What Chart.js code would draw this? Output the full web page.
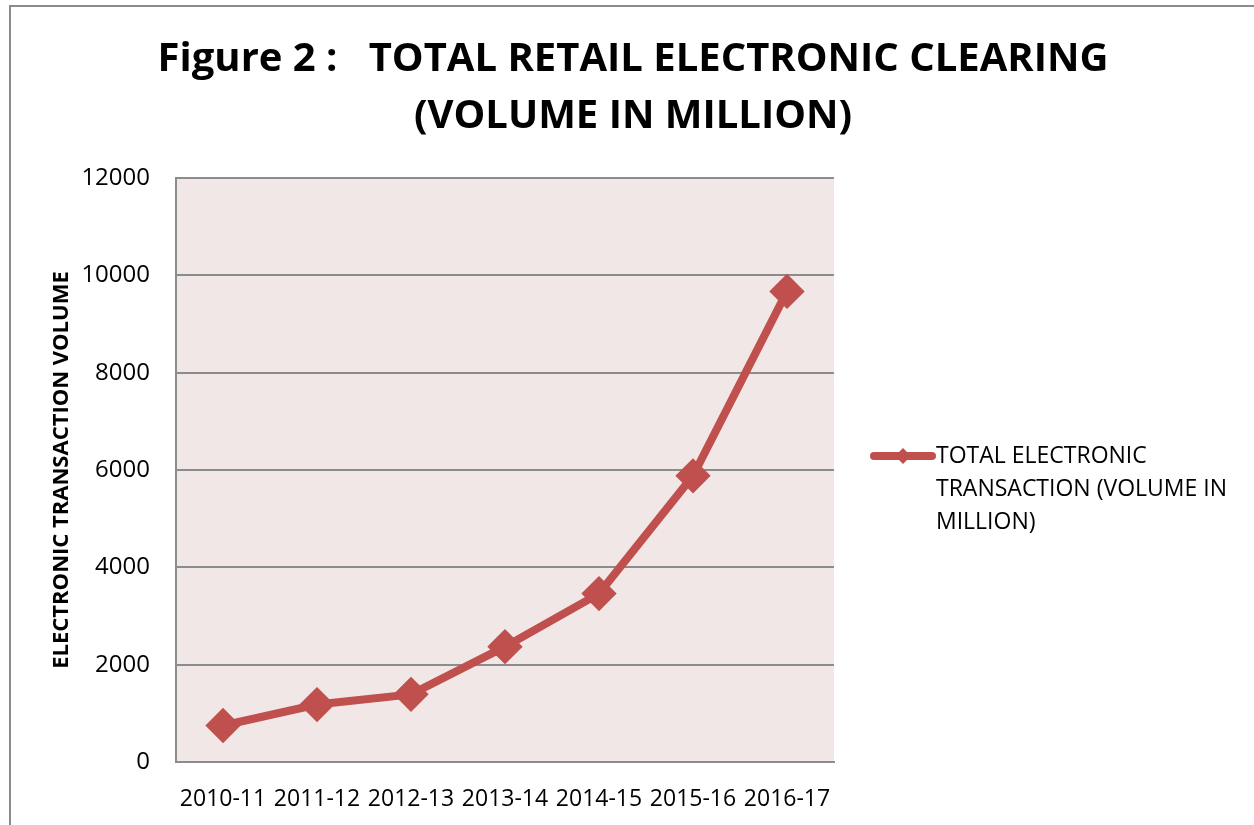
<!DOCTYPE html>
<html>
<head>
<meta charset="utf-8">
<script src="https://cdn.jsdelivr.net/npm/chart.js@4.4.1/dist/chart.umd.min.js"></script>
<style>
  html, body { margin: 0; padding: 0; background: #fff; }
  #wrap { position: relative; width: 1254px; height: 825px; }
  #frame { position: absolute; left: 9px; top: 5px; right: 0; bottom: 0;
           border-left: 2px solid #8c8c8c; border-top: 2px solid #8c8c8c; }
  canvas { position: absolute; left: 0; top: 0; }
</style>
</head>
<body>
<div id="wrap">
  <div id="frame"></div>
  <canvas id="myChart" width="1254" height="825"></canvas>
</div>
<script>
// data
const years = ['2010-11', '2011-12', '2012-13', '2013-14', '2014-15', '2015-16', '2016-17'];
const volumes = [750, 1180, 1390, 2370, 3460, 5880, 9670];
const yTicks = [0, 2000, 4000, 6000, 8000, 10000, 12000];
const titleLines = ['Figure 2 :   TOTAL RETAIL ELECTRONIC CLEARING', '(VOLUME IN MILLION)'];
const seriesName = ['TOTAL ELECTRONIC', 'TRANSACTION (VOLUME IN', 'MILLION)'];

const lineColor = '#c0504d';

// pink plot background
const plotBackground = {
    id: 'plotBackground',
    beforeDraw(chart) {
        const { ctx, chartArea: a } = chart;
        ctx.save();
        ctx.fillStyle = '#f2e7e7';
        ctx.fillRect(a.left, a.top, a.right - a.left, a.bottom - a.top);
        ctx.restore();
    }
};

// title centred on the whole page, not on the plot + padding
const pageTitle = {
    id: 'pageTitle',
    afterDraw(chart) {
        const ctx = chart.ctx;
        ctx.save();
        ctx.fillStyle = '#000';
        ctx.font = 'bold 40px "Open Sans"';
        ctx.textAlign = 'center';
        ctx.textBaseline = 'middle';
        ctx.fillText(titleLines[0], 633, 60);
        ctx.fillText(titleLines[1], 633, 117);
        ctx.restore();
    }
};

// legend on the right with wrapped text, like the excel one
const sideLegend = {
    id: 'sideLegend',
    afterDraw(chart) {
        const { ctx, chartArea: a } = chart;
        const x = a.right + 40;
        const y = (a.top + a.bottom) / 2 - 14;
        ctx.save();
        ctx.strokeStyle = lineColor;
        ctx.lineWidth = 8;
        ctx.lineCap = 'round';
        ctx.beginPath();
        ctx.moveTo(x, y);
        ctx.lineTo(x + 58, y);
        ctx.stroke();
        ctx.fillStyle = lineColor;
        ctx.beginPath();
        ctx.moveTo(x + 29, y - 8);
        ctx.lineTo(x + 37, y);
        ctx.lineTo(x + 29, y + 8);
        ctx.lineTo(x + 21, y);
        ctx.closePath();
        ctx.fill();
        ctx.fillStyle = '#000';
        ctx.font = '23px "Open Sans"';
        ctx.textBaseline = 'middle';
        seriesName.forEach((t, i) => ctx.fillText(t, x + 62, y + i * 33));
        ctx.restore();
    }
};

const ctx = document.getElementById('myChart').getContext('2d');
new Chart(ctx, {
    type: 'line',
    data: {
        labels: years,
        datasets: [{
            label: seriesName.join(' '),
            data: volumes,
            borderColor: lineColor,
            backgroundColor: lineColor,
            borderWidth: 8,
            pointStyle: 'rectRot',
            pointRadius: 12,
            pointHoverRadius: 12,
            tension: 0
        }]
    },
    options: {
        responsive: false,
        animation: false,
        layout: { padding: { left: 0, right: 420, top: 178, bottom: 0 } },
        plugins: {
            legend: { display: false },
            tooltip: { enabled: false },
            title: { display: false }
        },
        scales: {
            x: {
                offset: true,
                grid: { display: false, drawTicks: false },
                border: { color: '#8c8c8c', width: 2 },
                ticks: {
                    color: '#000',
                    font: { family: 'Open Sans', size: 23 },
                    padding: 24,
                    maxRotation: 0,
                    autoSkip: false
                },
                afterFit(axis) { axis.height = 63; }
            },
            y: {
                min: 0,
                max: 12000,
                afterBuildTicks(axis) { axis.ticks = yTicks.map(v => ({ value: v })); },
                grid: { color: '#8c8c8c', lineWidth: 2, drawTicks: false },
                border: { color: '#8c8c8c', width: 2 },
                ticks: {
                    color: '#000',
                    font: { family: 'Open Sans', size: 24 },
                    padding: 26,
                    callback: v => String(v)
                },
                title: {
                    display: true,
                    text: 'ELECTRONIC TRANSACTION VOLUME',
                    color: '#000',
                    font: { family: 'Open Sans', size: 22, weight: 'bold' },
                    padding: { top: 49, bottom: 8 }
                },
                afterFit(axis) { axis.width = 176; }
            }
        }
    },
    plugins: [plotBackground, pageTitle, sideLegend]
});
</script>
</body>
</html>
